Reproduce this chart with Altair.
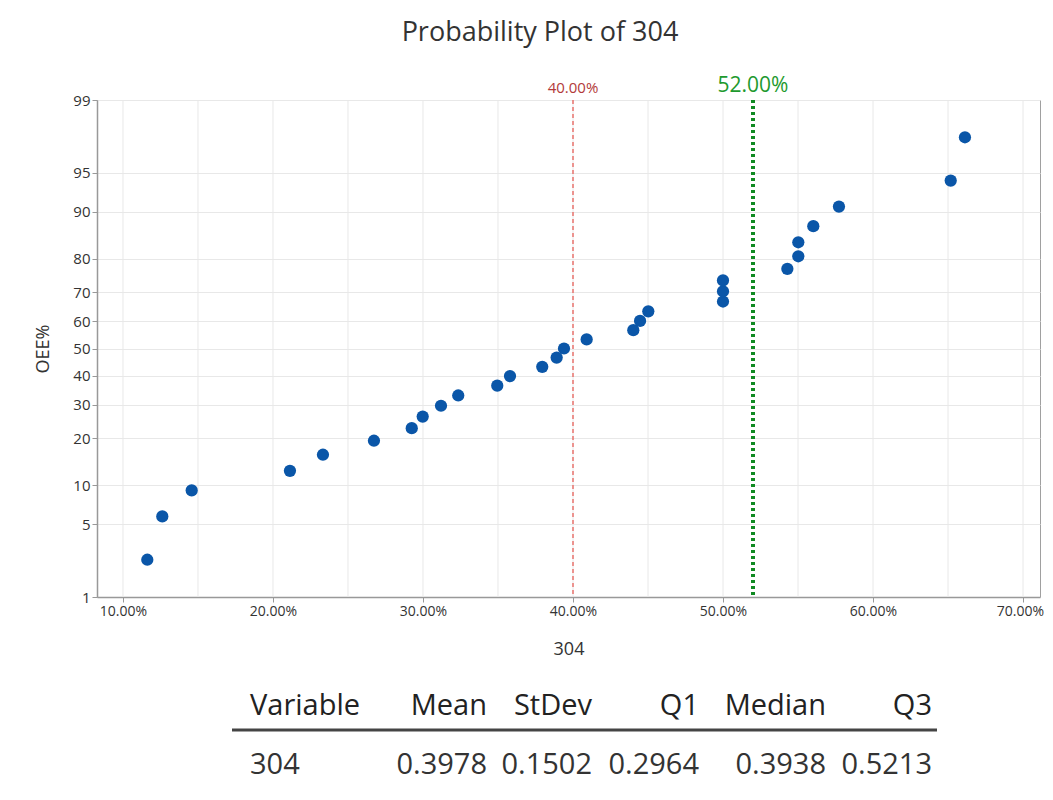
import altair as alt
import pandas as pd
from statistics import NormalDist

# ---- data ----
oee = [0.1162, 0.1262, 0.1458, 0.2113, 0.2333, 0.2673, 0.2925, 0.2998, 0.3120,
       0.3235, 0.3495, 0.3580, 0.3795, 0.3891, 0.3940, 0.4091, 0.4402, 0.4447,
       0.4502, 0.5000, 0.5000, 0.5000, 0.5429, 0.5502, 0.5502, 0.5602, 0.5773,
       0.6518, 0.6613]
pct = [2.4, 5.8, 9.2, 12.6, 16.0, 19.4, 22.8, 26.2, 29.6, 33.0, 36.4, 39.8,
       43.2, 46.6, 50.0, 53.4, 56.8, 60.2, 63.6, 67.0, 70.4, 73.8, 77.2, 80.6,
       84.0, 87.4, 90.8, 94.2, 97.6]
y_ticks_pct = [1, 5, 10, 20, 30, 40, 50, 60, 70, 80, 90, 95, 99]
x_ticks = [0.10, 0.20, 0.30, 0.40, 0.50, 0.60, 0.70]
x_grid = [0.10, 0.15, 0.20, 0.25, 0.30, 0.35, 0.40, 0.45, 0.50, 0.55, 0.60, 0.65, 0.70]
ref_low = [0.40]
ref_low_label = ["40.00%"]
ref_high = [0.52]
ref_high_label = ["52.00%"]
table_cols = ["Variable", "Mean", "StDev", "Q1", "Median", "Q3"]
table_vals = ["304", "0.3978", "0.1502", "0.2964", "0.3938", "0.5213"]
title_text = "Probability Plot of 304"

nd = NormalDist()
y_tick_z = [nd.inv_cdf(p / 100) for p in y_ticks_pct]
zlo, zhi = nd.inv_cdf(0.01), nd.inv_cdf(0.99)

pts = pd.DataFrame({"x": oee, "p": pct})
grid_df = pd.DataFrame({"x": x_grid})
low_df = pd.DataFrame({"x": ref_low, "t": ref_low_label})
high_df = pd.DataFrame({"x": ref_high, "t": ref_high_label})

FONT = "Open Sans"

xscale = alt.Scale(domain=[0.08267, 0.71133], nice=False, zero=False)
xaxis = alt.Axis(values=x_ticks, format=".2%", title="304", grid=False,
                 labelFlush=False, labelOverlap=False, tickSize=5,
                 labelFontSize=14,
                 labelOffset={"condition": {"test": "datum.value > 0.65", "value": -3},
                              "value": 0},
                 titleFontSize=18, titleFontWeight="normal",
                 titlePadding=22, domainColor="#999", tickColor="#999",
                 domainWidth=1.5)


def X(field="x"):
    return alt.X(f"{field}:Q", scale=xscale, axis=xaxis)


base_grid = alt.Chart(grid_df).mark_rule(color="#e8e8e8", strokeWidth=1).encode(x=X())

low_rule = alt.Chart(low_df).mark_rule(color="#e8605a", strokeWidth=1.3,
                                       strokeDash=[4, 3]).encode(x=X())
high_rule = alt.Chart(high_df).mark_rule(color="#108a22", strokeWidth=4,
                                         strokeDash=[3, 3]).encode(x=X())

points = alt.Chart(pts).transform_calculate(
    z="quantileNormal(datum.p / 100)"
).mark_circle(size=150, color="#0a56a8", opacity=1).encode(
    x=X(),
    y=alt.Y("z:Q", scale=alt.Scale(domain=[zlo, zhi], nice=False, zero=False),
            axis=alt.Axis(values=y_tick_z, title="OEE%",
                          labelExpr="toString(round(cumulativeNormal(datum.value) * 100))",
                          grid=True, gridColor="#e8e8e8", labelOverlap=False,
                          tickSize=5, labelFontSize=15, titleFontSize=18,
                          titleFontWeight="normal", titlePadding=20,
                          domainColor="#999", tickColor="#999", domainWidth=1.5)),
)

low_text = alt.Chart(low_df).mark_text(color="#b23a3a", fontSize=15, font=FONT,
                                       baseline="middle").encode(
    x=X(), y=alt.value(-12), text="t:N")
high_text = alt.Chart(high_df).mark_text(color="#1e9a2e", fontSize=21, font=FONT,
                                         baseline="middle").encode(
    x=X(), y=alt.value(-14), text="t:N")

title = alt.Chart(pd.DataFrame({"t": [title_text]})).mark_text(
    fontSize=27, font=FONT, color="#333", baseline="middle").encode(
    x=alt.value(443), y=alt.value(-67), text="t:N")

# summary table below the plot
col_x = [153, 390, 495, 602, 729, 835]
col_align = ["left", "right", "right", "right", "right", "right"]
table_layers = []
for i in range(len(table_cols)):
    df = pd.DataFrame({"h": [table_cols[i]], "v": [table_vals[i]]})
    table_layers.append(alt.Chart(df).mark_text(
        fontSize=29, font=FONT, color="#222", align=col_align[i], baseline="middle"
    ).encode(x=alt.value(col_x[i]), y=alt.value(606), text="h:N"))
    table_layers.append(alt.Chart(df).mark_text(
        fontSize=29, font=FONT, color="#333", align=col_align[i], baseline="middle"
    ).encode(x=alt.value(col_x[i]), y=alt.value(665), text="v:N"))

underline = alt.Chart(pd.DataFrame({"a": [0]})).mark_rule(
    color="#444", strokeWidth=3).encode(
    x=alt.value(135), x2=alt.value(840), y=alt.value(630))

chart = alt.layer(
    base_grid, low_rule, high_rule, points, low_text, high_text, title,
    underline, *table_layers
).properties(
    width=943, height=497,
    autosize=alt.AutoSizeParams(type="none"),
    padding={"left": 89, "top": 92, "right": 5, "bottom": 187},
    background="white",
).configure_view(
    stroke="#a0a0a0", strokeWidth=1
).configure_axis(
    labelFont=FONT, titleFont=FONT, labelColor="#333", titleColor="#333"
)

chart.save("out.html", embed_options={"renderer": "svg", "actions": False})
